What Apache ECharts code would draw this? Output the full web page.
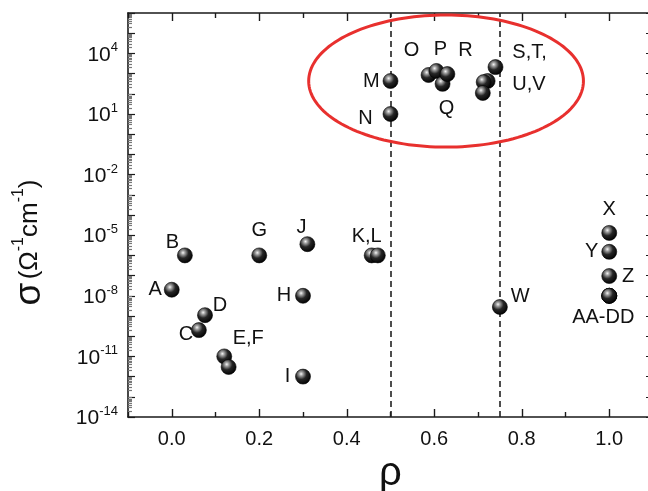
<!DOCTYPE html>
<html>
<head>
<meta charset="utf-8">
<script src="https://cdn.jsdelivr.net/npm/echarts@6/dist/echarts.min.js"></script>
<style>
html,body{margin:0;padding:0;background:#fff;}
#chart{width:648px;height:491px;}
</style>
</head>
<body>
<div id="chart"></div>
<script>
// ---- data ----
const pointNames = ['A','B','C','D','E','F','G','H','I','J','K','L','M','N','O','P','Q','R','S','T','U','V','W','X','Y','Z','AA','BB','CC','DD'];
const rhoValues  = [0.00,0.03,0.062,0.076,0.12,0.13,0.20,0.30,0.30,0.31,0.457,0.471,0.50,0.50,0.587,0.605,0.619,0.63,0.74,0.722,0.713,0.711,0.75,1.00,1.00,1.00,1.00,1.00,1.00,1.00];
const sigmaValues = [2e-8,1e-6,2e-10,1.1e-9,1e-11,3e-12,1e-6,1e-8,1e-12,3.6e-6,1e-6,1e-6,430,10,850,1350,310,950,2100,430,380,110,2.8e-9,1.3e-5,1.5e-6,9.5e-8,1e-8,1e-8,1e-8,1e-8];
const labelTexts = {A:'A',B:'B',C:'C',D:'D',E:'E,F',G:'G',H:'H',I:'I',J:'J',K:'K,L',M:'M',N:'N',O:'O',P:'P',Q:'Q',R:'R',S:'S,T,\nU,V',W:'W',X:'X',Y:'Y',Z:'Z',AA:'AA-DD'};
const xMajorTicks = [0.0,0.2,0.4,0.6,0.8,1.0];
const xMinorTicks = [-0.1,0.1,0.3,0.5,0.7,0.9,1.1];
const yLabelTicks = [1e-14,1e-11,1e-8,1e-5,1e-2,1e1,1e4];
const dividerRho = [0.5, 0.75];
const ellipseCenter = [0.627, 427];   // rho, sigma
const ellipseHalfWidth = 0.314;        // in rho
const ellipseHalfDecades = 3.27;       // in log10(sigma)

// decade and minor ticks of the log axis
const yDecades = [];
for (let e = -14; e <= 6; e++) yDecades.push(Math.pow(10, e));
const yMinor = [];
for (let e = -14; e < 6; e++) for (let m = 2; m <= 9; m++) yMinor.push(m * Math.pow(10, e));

// ---- styles ----
const FONT = 'Liberation Sans, Arial, sans-serif';
const placement = {
  A:{position:'left',distance:2,offset:[0,0]},
  B:{position:'left',distance:0,offset:[2,-13]},
  C:{position:'left',distance:0,offset:[2,4]},
  D:{position:'right',distance:0,offset:[0,-10]},
  E:{position:'top',distance:0,offset:[24,0]},
  G:{position:'top',distance:7,offset:[0,0]},
  H:{position:'left',distance:4,offset:[0,0]},
  I:{position:'left',distance:5,offset:[0,0]},
  J:{position:'top',distance:0,offset:[-6,1]},
  K:{position:'top',distance:1,offset:[-5,0]},
  M:{position:'left',distance:3,offset:[0,0]},
  N:{position:'left',distance:10,offset:[0,4]},
  O:{position:'inside',distance:0,offset:[-17,-25]},
  P:{position:'inside',distance:0,offset:[4,-21]},
  R:{position:'inside',distance:0,offset:[18,-24]},
  Q:{position:'inside',distance:0,offset:[4,25]},
  S:{position:'right',distance:9,offset:[0,1],align:'left',lineHeight:32},
  W:{position:'right',distance:3,offset:[0,-10]},
  X:{position:'top',distance:6,offset:[0,0]},
  Y:{position:'left',distance:3,offset:[0,0]},
  Z:{position:'right',distance:5,offset:[0,0]},
  AA:{position:'bottom',distance:4,offset:[-6,0]}
};

const sphere = {
  type:'radial', x:0.38, y:0.33, r:0.7,
  colorStops:[
    {offset:0,color:'#f6f6f6'},
    {offset:0.18,color:'#a0a0a0'},
    {offset:0.5,color:'#262626'},
    {offset:1,color:'#000'}
  ]
};

const seriesData = pointNames.map((n, i) => {
  const item = {name:n, value:[rhoValues[i], sigmaValues[i]]};
  if (labelTexts[n]) {
    const p = placement[n];
    item.label = Object.assign({
      show:true, formatter:labelTexts[n], color:'#111', fontSize:20, fontFamily:FONT
    }, p);
  }
  return item;
});

const axisColor = '#1a1a1a';

function xAx(pos, tickVals, len, showLine, showLabel, extra) {
  return Object.assign({
    type:'value', position:pos, min:-0.1, max:1.1, gridIndex:0,
    axisLine:{show:showLine, onZero:false, lineStyle:{color:axisColor,width:1.6}},
    axisTick:{show:true, inside:true, length:len, customValues:tickVals, lineStyle:{color:axisColor,width:1.4}},
    axisLabel:{show:showLabel},
    splitLine:{show:false}
  }, extra || {});
}
function yAx(pos, tickVals, len, showLine, color, extra) {
  return Object.assign({
    type:'log', logBase:10, position:pos, min:1e-14, max:1e6, gridIndex:0,
    axisLine:{show:showLine, onZero:false, lineStyle:{color:axisColor,width:1.6}},
    axisTick:{show:true, inside:true, length:len, customValues:tickVals, lineStyle:{color:color,width:1.2}},
    axisLabel:{show:false},
    splitLine:{show:false}
  }, extra || {});
}

const chart = echarts.init(document.getElementById('chart'), null, {renderer:'canvas'});
const option = {
  animation:false,
  backgroundColor:'#fff',
  grid:{left:128, top:13, width:525, height:404, containLabel:false, outerBoundsMode:'none'},
  xAxis:[
    xAx('bottom', xMajorTicks, 8, true, true, {
      name:'ρ', nameLocation:'middle', nameGap:26,
      nameTextStyle:{fontSize:40, fontFamily:FONT, color:'#111'},
      axisLabel:{show:true, customValues:xMajorTicks, margin:12, fontSize:20, fontFamily:FONT, color:'#111',
        formatter:v => v.toFixed(1)}
    }),
    xAx('bottom', xMinorTicks, 5, false, false),
    xAx('top', xMajorTicks, 8, true, false),
    xAx('top', xMinorTicks, 5, false, false)
  ],
  yAxis:[
    yAx('left', yDecades, 7, true, axisColor, {
      name:'{s|σ} {t|(Ω}{u|-1}{t|cm}{u|-1}{t|)}', nameLocation:'middle', nameGap:80, nameRotate:90,
      nameTextStyle:{fontFamily:FONT, color:'#111', padding:[0,55,0,0],
        rich:{
          s:{fontSize:37, fontFamily:FONT, color:'#111'},
          t:{fontSize:26, fontFamily:FONT, color:'#111'},
          u:{fontSize:16, fontFamily:FONT, color:'#111', verticalAlign:'top', padding:[0,0,12,0]}
        }},
      axisLabel:{show:true, customValues:yLabelTicks, margin:10, fontFamily:FONT, color:'#111',
        formatter:v => '{b|10}{s|' + Math.round(Math.log10(v)) + '}',
        rich:{
          b:{fontSize:21, fontFamily:FONT, color:'#111', padding:[3,0,0,0]},
          s:{fontSize:13, fontFamily:FONT, color:'#111', verticalAlign:'top', padding:[0,0,10,0]}
        }}
    }),
    yAx('left', yMinor, 4, false, '#777'),
    yAx('right', yDecades, 7, true, axisColor),
    yAx('right', yMinor, 4, false, '#777')
  ],
  series:[{
    type:'scatter', xAxisIndex:0, yAxisIndex:0,
    symbol:'circle', symbolSize:15,
    itemStyle:{color:sphere, borderColor:'#000', borderWidth:0.6, opacity:1},
    data:seriesData,
    z:5,
    markLine:{
      silent:true, symbol:['none','none'], label:{show:false},
      lineStyle:{type:[6,4], color:'#222', width:1.6},
      data:dividerRho.map(v => ({xAxis:v}))
    }
  }]
};
chart.setOption(option);

// red ellipse annotation, placed through the axes' own conversion
const c = chart.convertToPixel({xAxisIndex:0, yAxisIndex:0}, ellipseCenter);
const ex = chart.convertToPixel({xAxisIndex:0, yAxisIndex:0}, [ellipseCenter[0] + ellipseHalfWidth, ellipseCenter[1]]);
const ey = chart.convertToPixel({xAxisIndex:0, yAxisIndex:0}, [ellipseCenter[0], ellipseCenter[1] * Math.pow(10, ellipseHalfDecades)]);
const rx = Math.abs(ex[0] - c[0]), ry = Math.abs(c[1] - ey[1]);
const pts = [];
for (let k = 0; k < 160; k++) {
  const t = 2 * Math.PI * k / 160;
  pts.push([c[0] + rx * Math.cos(t), c[1] + ry * Math.sin(t)]);
}
chart.setOption({graphic:[{
  type:'polygon', shape:{points:pts}, z:10, silent:true,
  style:{fill:'none', stroke:'#e8302e', lineWidth:3}
}]});
</script>
</body>
</html>
